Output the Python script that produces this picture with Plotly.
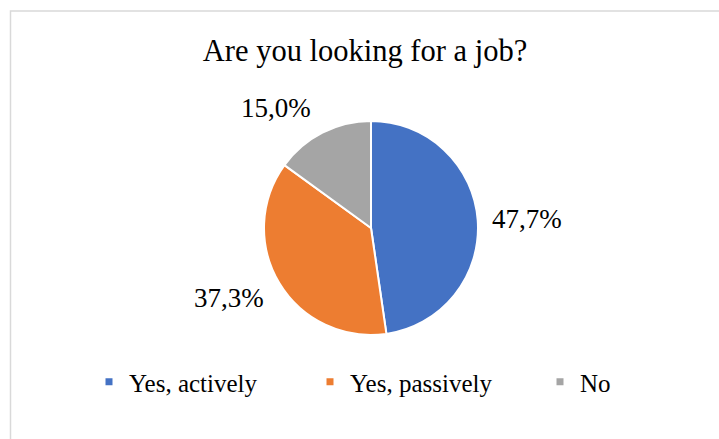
import plotly.graph_objects as go

# Survey answers and their shares (percent)
categories = ["Yes, actively", "Yes, passively", "No"]
shares = [47.7, 37.3, 15.0]
colors = ["#4472C4", "#ED7D31", "#A5A5A5"]

W, H = 719, 439
FONT = "Liberation Serif, Times New Roman, serif"


def fmt(v):
    return f"{v:.1f}".replace(".", ",") + "%"


fig = go.Figure()

fig.add_trace(go.Pie(
    labels=categories,
    values=shares,
    sort=False,
    direction="clockwise",
    rotation=0,
    marker=dict(colors=colors, line=dict(color="white", width=2)),
    textinfo="none",
    hoverinfo="label+percent",
    showlegend=False,
    domain=dict(x=[264 / W, 478 / W], y=[1 - 335 / H, 1 - 121 / H]),
))

# Legend entries: small square swatches, one legend per entry
legend_x = [89 / W, 310 / W, 540 / W]
legend_names = ["legend", "legend2", "legend3"]
for name, col, lg in zip(categories, colors, legend_names):
    fig.add_trace(go.Scatter(
        x=[None], y=[None], mode="markers", name=name,
        marker=dict(symbol="square", size=7, color=col),
        legend=lg, showlegend=True, hoverinfo="skip",
    ))

legend_common = dict(
    orientation="h", yanchor="middle", y=1 - 382 / H, xanchor="left",
    font=dict(family=FONT, size=25, color="black"),
    bgcolor="rgba(0,0,0,0)", borderwidth=0, itemclick=False, itemdoubleclick=False,
)
layout_legends = {lg: dict(legend_common, x=lx) for lg, lx in zip(legend_names, legend_x)}

# Data labels placed around the pie
label_pos = [(527, 219), (229, 298), (276, 108)]
annotations = [
    dict(text=fmt(v), x=px / W, y=1 - py / H, xref="paper", yref="paper",
         showarrow=False, xanchor="center", yanchor="middle",
         font=dict(family=FONT, size=27, color="black"))
    for v, (px, py) in zip(shares, label_pos)
]

fig.update_layout(
    width=W, height=H,
    margin=dict(l=0, r=0, t=0, b=0),
    paper_bgcolor="white", plot_bgcolor="white",
    title=dict(text="Are you looking for a job?", x=365 / W, xanchor="center",
               y=1 - 50 / H, yanchor="middle",
               font=dict(family=FONT, size=30.5, color="black")),
    xaxis=dict(visible=False), yaxis=dict(visible=False),
    annotations=annotations,
    shapes=[dict(type="rect", xref="paper", yref="paper",
                 x0=10.5 / W, x1=1.02, y0=-0.02, y1=1 - 11 / H,
                 line=dict(color="#D9D9D9", width=1.5), fillcolor="rgba(0,0,0,0)",
                 layer="below")],
    **layout_legends,
)

fig.write_html("out.html")
